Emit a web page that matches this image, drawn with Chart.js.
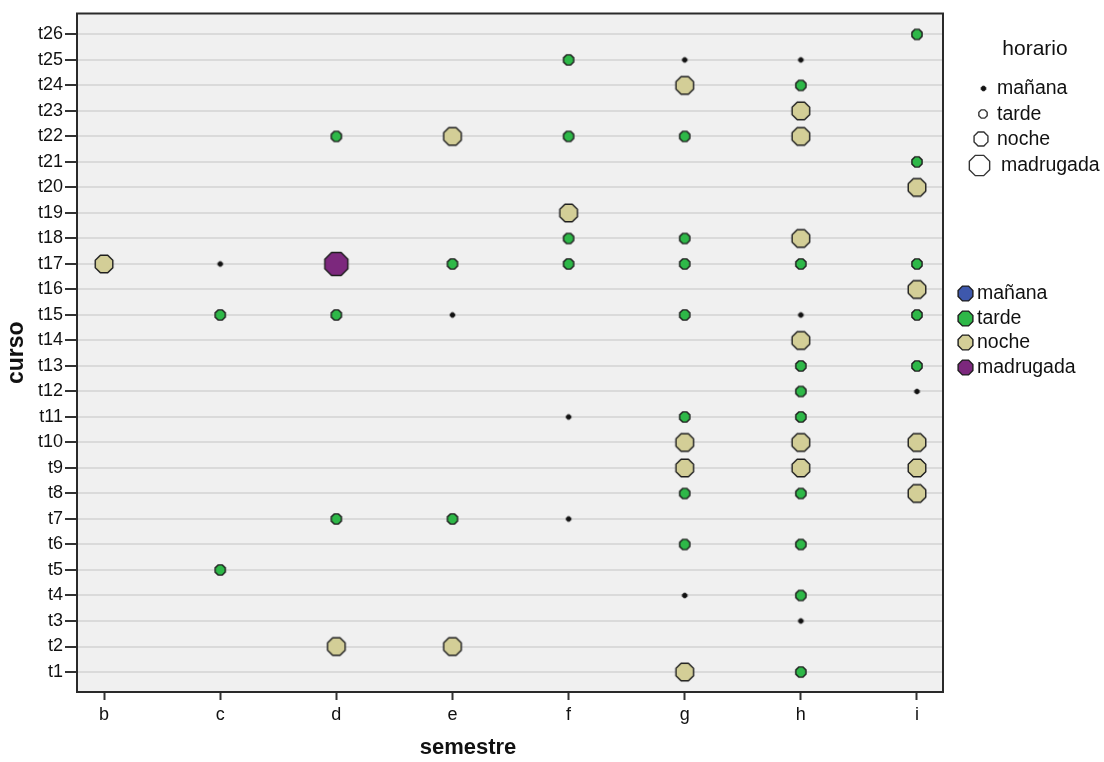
<!DOCTYPE html>
<html>
<head>
<meta charset="utf-8">
<script src="https://cdn.jsdelivr.net/npm/chart.js@4/dist/chart.umd.min.js"></script>
<style>
  html, body { margin: 0; padding: 0; background: #ffffff; }
  #wrap { width: 1104px; height: 762px; }
</style>
</head>
<body>
<div id="wrap"><canvas id="c" width="1104" height="762"></canvas></div>
<script>
// Category axes
const semestres = ['b', 'c', 'd', 'e', 'f', 'g', 'h', 'i'];
const cursos = ['t1', 't2', 't3', 't4', 't5', 't6', 't7', 't8', 't9', 't10', 't11', 't12', 't13',
  't14', 't15', 't16', 't17', 't18', 't19', 't20', 't21', 't22', 't23', 't24', 't25', 't26'];
const horarios = ['mañana', 'tarde', 'noche', 'madrugada'];

// Observations per horario: curso and semestre of each point
const mananaCurso = ['t25', 't25', 't17', 't15', 't15', 't12', 't11', 't7', 't4', 't3'];
const mananaSemestre = ['g', 'h', 'c', 'e', 'h', 'i', 'f', 'f', 'g', 'h'];

const tardeCurso = ['t26', 't25', 't24', 't22', 't22', 't22', 't21', 't18', 't18',
  't17', 't17', 't17', 't17', 't17', 't15', 't15', 't15', 't15', 't13', 't13', 't12',
  't11', 't11', 't8', 't8', 't7', 't7', 't6', 't6', 't5', 't4', 't1'];
const tardeSemestre = ['i', 'f', 'h', 'd', 'f', 'g', 'i', 'f', 'g',
  'e', 'f', 'g', 'h', 'i', 'c', 'd', 'g', 'i', 'h', 'i', 'h',
  'g', 'h', 'g', 'h', 'd', 'e', 'g', 'h', 'c', 'h', 'h'];

const nocheCurso = ['t24', 't23', 't22', 't22', 't20', 't19', 't18', 't17', 't16', 't14',
  't10', 't10', 't10', 't9', 't9', 't9', 't8', 't2', 't2', 't1'];
const nocheSemestre = ['g', 'h', 'e', 'h', 'i', 'f', 'h', 'b', 'i', 'h',
  'g', 'h', 'i', 'g', 'h', 'i', 'i', 'd', 'e', 'g'];

const madrugadaCurso = ['t17'];
const madrugadaSemestre = ['d'];

// Styling
const FONT = "'Liberation Sans', Arial, sans-serif";
const fills = ['#3E58AC', '#2EB848', '#D3CE97', '#7C287D'];
const sizes = [2.5, 5.5, 9.5, 12.5];      // marker radius per horario
const legendSizes = [2.5, 4.5, 7.5, 11];

// Octagonal marker drawn into an offscreen canvas, used as a point style
function octagon(r, fill, stroke, lw) {
  const size = Math.ceil(2 * (r + lw + 1));
  const cv = document.createElement('canvas');
  cv.width = cv.height = size;
  const g = cv.getContext('2d');
  const c = size / 2;
  g.beginPath();
  for (let k = 0; k < 8; k++) {
    const a = Math.PI / 8 + k * Math.PI / 4;
    const px = c + r * Math.cos(a), py = c + r * Math.sin(a);
    if (k === 0) g.moveTo(px, py); else g.lineTo(px, py);
  }
  g.closePath();
  if (fill) { g.fillStyle = fill; g.fill(); }
  g.lineWidth = lw;
  g.strokeStyle = stroke;
  g.stroke();
  return cv;
}

function toPoints(cs, ss) {
  return cs.map((c, i) => ({ x: semestres.indexOf(ss[i]), y: cursos.indexOf(c) + 1 }));
}

const groups = [
  [mananaCurso, mananaSemestre],
  [tardeCurso, tardeSemestre],
  [nocheCurso, nocheSemestre],
  [madrugadaCurso, madrugadaSemestre]
];

const datasets = groups.map((g, i) => ({
  label: horarios[i],
  data: toPoints(g[0], g[1]),
  pointStyle: i === 0 ? octagon(sizes[0], '#111', '#111', 1) : octagon(sizes[i], fills[i], '#1e1e1e', 1.4),
  pointRadius: sizes[i],
  showLine: false
}));

// Plot background and frame
const framePlugin = {
  id: 'frame',
  beforeDraw(chart) {
    const { ctx, chartArea: a } = chart;
    ctx.save();
    ctx.fillStyle = '#f0f0f0';
    ctx.fillRect(a.left, a.top, a.right - a.left, a.bottom - a.top);
    ctx.restore();
  },
  afterDatasetsDraw(chart) {
    const { ctx, chartArea: a } = chart;
    ctx.save();
    ctx.strokeStyle = '#2a2a2a';
    ctx.lineWidth = 2;
    ctx.strokeRect(a.left, a.top, a.right - a.left, a.bottom - a.top);
    ctx.restore();
  }
};

// Horizontal axis title, set under the left-middle of the plot
const xTitlePlugin = {
  id: 'xTitle',
  afterDraw(chart) {
    const ctx = chart.ctx;
    ctx.save();
    ctx.fillStyle = '#111';
    ctx.font = 'bold 22px ' + FONT;
    ctx.textAlign = 'center';
    ctx.textBaseline = 'middle';
    ctx.fillText('semestre', 468, 748);
    ctx.restore();
  }
};

// Two legends at the right: marker size and marker colour
const legendPlugin = {
  id: 'horarioLegends',
  afterDraw(chart) {
    const ctx = chart.ctx;
    ctx.save();
    ctx.fillStyle = '#111';
    ctx.textBaseline = 'middle';
    ctx.font = '21px ' + FONT;
    ctx.textAlign = 'center';
    ctx.fillText('horario', 1035, 49);
    ctx.font = '19.5px ' + FONT;
    ctx.textAlign = 'left';
    const sizeRows = [88, 114, 139, 165];
    const sizeX = [983, 983, 981, 979];
    horarios.forEach((h, i) => {
      const img = i === 0 ? octagon(legendSizes[0], '#111', '#111', 1)
                          : octagon(legendSizes[i], '#ffffff', '#333', 1.4);
      ctx.drawImage(img, Math.round(sizeX[i] - img.width / 2), Math.round(sizeRows[i] - img.height / 2));
      ctx.fillStyle = '#111';
      ctx.fillText(h, i === 3 ? 1001 : 997, sizeRows[i] + 1);
    });
    const colorRows = [293, 318, 342, 367];
    horarios.forEach((h, i) => {
      const img = octagon(8, fills[i], '#1e1e1e', 1.4);
      ctx.drawImage(img, Math.round(965 - img.width / 2), Math.round(colorRows[i] - img.height / 2));
      ctx.fillStyle = '#111';
      ctx.fillText(h, 977, colorRows[i] + 1);
    });
    ctx.restore();
  }
};

new Chart(document.getElementById('c'), {
  type: 'scatter',
  data: { datasets },
  options: {
    responsive: false,
    animation: false,
    layout: { padding: { top: 13, right: 161, left: 0, bottom: 0 } },
    plugins: { legend: { display: false }, tooltip: { enabled: false } },
    scales: {
      x: {
        type: 'linear',
        min: -0.233,
        max: 7.224,
        afterFit(s) { s.height = 70; },
        afterBuildTicks(s) { s.ticks = semestres.map((_, i) => ({ value: i })); },
        ticks: {
          callback: v => semestres[v],
          color: '#111',
          font: { family: FONT, size: 18 },
          padding: 4,
          maxRotation: 0,
          autoSkip: false
        },
        grid: {
          drawOnChartArea: false,
          tickLength: 8,
          tickColor: '#333',
          tickWidth: 2
        },
        border: { display: false },
        title: { display: false }
      },
      y: {
        type: 'linear',
        min: 0.216,
        max: 26.82,
        afterFit(s) { s.width = 77; },
        afterBuildTicks(s) { s.ticks = cursos.map((_, i) => ({ value: i + 1 })); },
        ticks: {
          callback: v => cursos[v - 1],
          color: '#111',
          font: { family: FONT, size: 18 },
          padding: 2,
          autoSkip: false
        },
        grid: {
          color: '#dadada',
          lineWidth: 2,
          tickLength: 12,
          tickColor: '#333',
          tickWidth: 2
        },
        border: { display: false },
        title: {
          display: true,
          text: 'curso',
          color: '#111',
          font: { family: FONT, size: 23, weight: 'bold' },
          padding: { top: 3, bottom: 0 }
        }
      }
    }
  },
  plugins: [framePlugin, xTitlePlugin, legendPlugin]
});
</script>
</body>
</html>
